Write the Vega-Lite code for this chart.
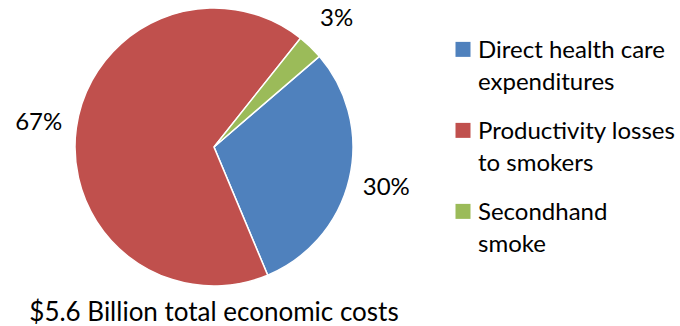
{
  "$schema": "https://vega.github.io/schema/vega-lite/v6.json",
  "width": 428,
  "height": 294,
  "padding": 0,
  "background": "white",
  "data": {
    "values": [
      {"category": "Direct health care expenditures", "value": 30, "label": "30%", "order": 1},
      {"category": "Productivity losses to smokers", "value": 67, "label": "67%", "order": 2},
      {"category": "Secondhand smoke", "value": 3, "label": "3%", "order": 3}
    ]
  },
  "title": {
    "text": "$5.6 Billion total economic costs",
    "orient": "bottom",
    "anchor": "middle",
    "frame": "group",
    "fontSize": 26,
    "font": "Lato",
    "fontWeight": "normal",
    "color": "black",
    "offset": 6
  },
  "encoding": {
    "theta": {"field": "value", "type": "quantitative", "stack": true, "scale": {"range": [0.86, 7.1432]}},
    "order": {"field": "order", "type": "quantitative"}
  },
  "layer": [
    {
      "mark": {"type": "arc", "outerRadius": 139, "stroke": "white", "strokeWidth": 1.5},
      "encoding": {
        "color": {
          "field": "category",
          "type": "nominal",
          "scale": {
            "domain": ["Direct health care expenditures", "Productivity losses to smokers", "Secondhand smoke"],
            "range": ["#4F81BD", "#C0504D", "#9BBB59"]
          },
          "legend": {
            "title": null,
            "orient": "none",
            "legendX": 451,
            "legendY": 46,
            "symbolType": "M-1,-2.15H1V-0.15H-1Z",
            "symbolSize": 225,
            "symbolStrokeWidth": 0,
            "labelFontSize": 24,
            "labelFont": "Lato",
            "labelColor": "black",
            "labelLimit": 0,
            "labelOffset": 3,
            "labelBaseline": "alphabetic",
            "rowPadding": 25,
            "labelExpr": "datum.label == 'Direct health care expenditures' ? ['Direct health care', 'expenditures'] : datum.label == 'Productivity losses to smokers' ? ['Productivity losses', 'to smokers'] : ['Secondhand', 'smoke']"
          }
        }
      }
    },
    {
      "mark": {"type": "text", "radius": 177, "fontSize": 24, "font": "Lato", "color": "black"},
      "encoding": {
        "text": {"field": "label"}
      }
    }
  ],
  "config": {
    "view": {"stroke": null},
    "style": {"guide-label": {"lineHeight": 32}}
  }
}
